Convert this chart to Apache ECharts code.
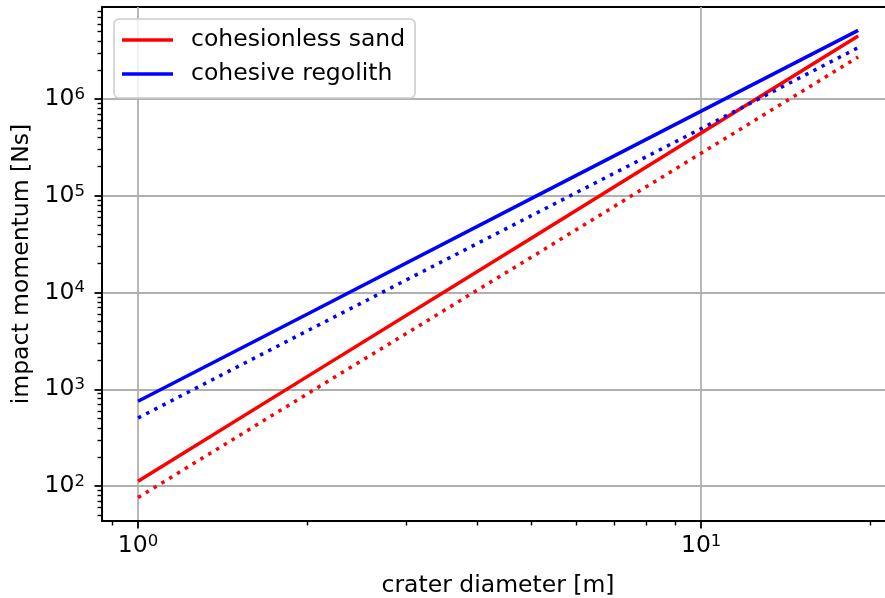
<!DOCTYPE html>
<html><head><meta charset="utf-8">
<script src="https://cdn.jsdelivr.net/npm/echarts@6/dist/echarts.min.js"></script>
<style>html,body{margin:0;padding:0;overflow:hidden;background:#fff}#c{width:895px;height:598px}</style>
</head><body><div id="c"></div>
<script>
// ---- data ----
const diameters = [1, 2, 5, 10, 19];
const sandSolid = [112, 1360, 36700, 446000, 4500000];
const regolithSolid = [753, 6000, 94000, 750000, 5130000];
const sandDotted = [76, 900, 23300, 276000, 2720000];
const regolithDotted = [505, 4030, 62500, 495000, 3400000];
const seriesNames = ['cohesionless sand', 'cohesive regolith'];
const xLimits = [0.863, 22.0];
const yLimits = [43.5, 8.95e6];
const xMajorTicks = [1, 10];
const yMajorTicks = [100, 1000, 10000, 100000, 1000000];
const xMinorTicks = [0.9, 2, 3, 4, 5, 6, 7, 8, 9, 20];
const yMinorTicks = [];
for (let d = 10; d <= 1e6; d *= 10) for (let m = 2; m <= 9; m++) { const v = m * d; if (v > yLimits[0] && v < yLimits[1]) yMinorTicks.push(v); }

const FONT = 'DejaVu Sans';
const FS = 23.5;
const pairs = (ys) => diameters.map((x, i) => [x, ys[i]]);
const supLabel = {
  formatter: (v) => '{b|10}{s|' + Math.round(Math.log10(v)) + '}',
  rich: {
    b: {fontSize: FS, fontFamily: FONT, color: '#000', lineHeight: 26},
    s: {fontSize: 16.5, fontFamily: FONT, color: '#000', lineHeight: 16, verticalAlign: 'top'}
  }
};
const gridLine = {show: true, lineStyle: {color: '#b0b0b0', width: 1.8}};

const chart = echarts.init(document.getElementById('c'), null, {renderer: 'canvas'});
chart.setOption({
  animation: false,
  backgroundColor: '#fff',
  grid: {left: 102, right: 1, top: 7, bottom: 77, show: true, borderColor: '#000', borderWidth: 1.8, backgroundColor: 'transparent', outerBoundsMode: 'none', containLabel: false},
  legend: {
    data: seriesNames, left: 114, top: 19, orient: 'vertical', icon: 'rect',
    itemWidth: 51, itemHeight: 3.5, itemGap: 4,
    padding: [6, 10, 9, 8],
    backgroundColor: 'rgba(255,255,255,0.8)', borderColor: '#cccccc', borderWidth: 1.5, borderRadius: 5,
    textStyle: {fontSize: FS, fontFamily: FONT, color: '#000', lineHeight: 30, padding: [0, 0, 0, 13]}
  },
  xAxis: [
    {type: 'log', logBase: 10, min: xLimits[0], max: xLimits[1], position: 'bottom',
     name: 'crater diameter [m]', nameLocation: 'middle', nameGap: 53,
     nameTextStyle: {fontSize: FS, fontFamily: FONT, color: '#000'},
     axisLine: {show: true, onZero: false, lineStyle: {color: '#000', width: 1.8}},
     axisTick: {show: true, inside: false, length: 7.5, lineStyle: {color: '#000', width: 1.8}, customValues: xMajorTicks},
     axisLabel: Object.assign({show: true, margin: 12, customValues: xMajorTicks}, supLabel),
     splitLine: gridLine, minorTick: {show: false}, minorSplitLine: {show: false}},
    {type: 'log', logBase: 10, min: xLimits[0], max: xLimits[1], position: 'bottom',
     axisLine: {show: false}, axisLabel: {show: false}, splitLine: {show: false},
     axisTick: {show: true, inside: false, length: 4.5, lineStyle: {color: '#000', width: 1.4}, customValues: xMinorTicks}}
  ],
  yAxis: [
    {type: 'log', logBase: 10, min: yLimits[0], max: yLimits[1], position: 'left',
     name: 'impact momentum [Ns]', nameLocation: 'middle', nameGap: 68,
     nameTextStyle: {fontSize: FS, fontFamily: FONT, color: '#000'},
     axisLine: {show: true, onZero: false, lineStyle: {color: '#000', width: 1.8}},
     axisTick: {show: true, inside: false, length: 7.5, lineStyle: {color: '#000', width: 1.8}, customValues: yMajorTicks},
     axisLabel: Object.assign({show: true, margin: 17, customValues: yMajorTicks}, supLabel),
     splitLine: gridLine, minorTick: {show: false}, minorSplitLine: {show: false}},
    {type: 'log', logBase: 10, min: yLimits[0], max: yLimits[1], position: 'left',
     axisLine: {show: false}, axisLabel: {show: false}, splitLine: {show: false},
     axisTick: {show: true, inside: false, length: 4.5, lineStyle: {color: '#000', width: 1.4}, customValues: yMinorTicks}}
  ],
  series: [
    {name: seriesNames[0], type: 'line', data: pairs(sandSolid), showSymbol: false, symbol: 'none', color: '#ff0000',
     lineStyle: {color: '#ff0000', width: 3.5}, z: 3},
    {name: seriesNames[1], type: 'line', data: pairs(regolithSolid), showSymbol: false, symbol: 'none', color: '#0000ff',
     lineStyle: {color: '#0000ff', width: 3.5}, z: 3},
    {name: seriesNames[0] + ' (dotted)', type: 'line', data: pairs(sandDotted), showSymbol: false, symbol: 'none', color: '#ff0000',
     lineStyle: {color: '#ff0000', width: 3.5, type: [3.45, 5.7], cap: 'butt'}, z: 3},
    {name: seriesNames[1] + ' (dotted)', type: 'line', data: pairs(regolithDotted), showSymbol: false, symbol: 'none', color: '#0000ff',
     lineStyle: {color: '#0000ff', width: 3.5, type: [3.45, 5.7], cap: 'butt'}, z: 3}
  ]
});
</script></body></html>
